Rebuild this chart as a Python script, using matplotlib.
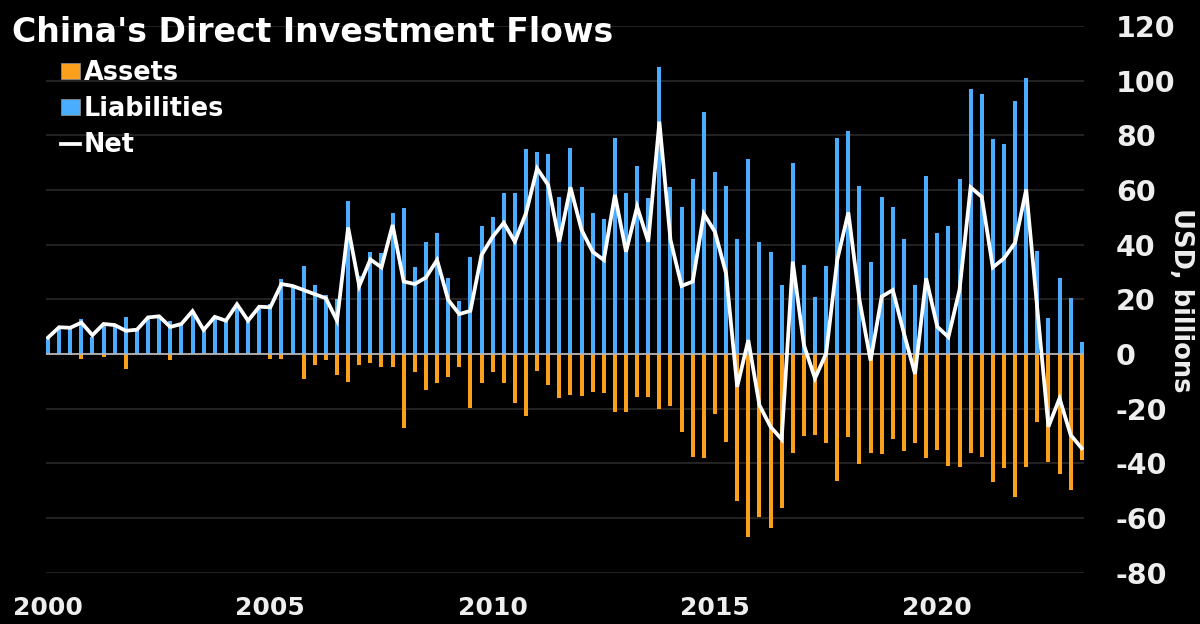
import numpy as np
import matplotlib
matplotlib.use("Agg")
import matplotlib.pyplot as plt
from matplotlib.patches import Patch
from matplotlib.lines import Line2D

plt.rcParams['axes.unicode_minus'] = False

##############              Data (USD billions, quarterly 2000 Q1 - 2023 Q2)             ###############

start_year = 2000
liabilities = [5.7, 9.4, 9.4, 12.8, 6.3, 10.6, 10.1, 13.7, 8.7, 13.4, 13.5, 12.0,
               10.6, 15.7, 8.8, 12.8, 12.1, 17.3, 12.4, 16.3, 18.3, 27.3, 24.6, 32.2,
               25.2, 21.6, 20.0, 56.0, 28.5, 37.4, 36.8, 51.7, 53.5, 31.9, 40.8, 44.4,
               27.9, 19.4, 35.6, 46.8, 50.2, 59.0, 59.0, 74.9, 73.8, 73.0, 57.5, 75.5,
               61.0, 51.5, 49.3, 79.1, 59.0, 68.8, 57.2, 105.0, 61.0, 53.7, 63.9, 88.6,
               66.6, 61.5, 42.1, 71.3, 40.8, 37.4, 25.2, 69.7, 32.6, 20.7, 32.3, 79.1,
               81.7, 61.5, 33.8, 57.3, 53.9, 42.0, 25.2, 65.1, 44.4, 46.8, 64.0, 96.8,
               95.0, 78.5, 76.8, 92.7, 100.8, 37.7, 13.0, 27.7, 20.4, 4.5]
assets = [0, 0, -0.5, -1.8, 0, -1.0, 0, -5.5, 0, 0, 0, -2.2,
          -0.5, 0, 0, 0, -0.3, -0.3, 0, 0, -1.9, -1.7, 0, -9.1,
          -3.9, -2.3, -7.7, -10.1, -4.0, -3.4, -4.9, -4.9, -27.2, -6.5, -13.2, -10.7,
          -8.5, -4.6, -19.6, -10.7, -6.5, -10.7, -18.0, -22.6, -6.1, -11.3, -16.0, -15.0,
          -15.4, -14.0, -14.4, -21.3, -21.3, -15.6, -15.6, -20.2, -18.9, -28.4, -37.6, -37.9,
          -22.0, -32.1, -53.7, -66.8, -59.8, -63.8, -56.5, -36.3, -30.0, -29.6, -32.7, -46.5,
          -30.5, -40.2, -36.1, -36.6, -31.1, -35.5, -32.7, -37.9, -35.1, -41.0, -41.2, -36.1,
          -37.8, -46.7, -41.6, -52.4, -41.2, -24.8, -39.4, -44.0, -49.7, -38.8]
net = [6.0, 9.8, 9.6, 11.5, 6.9, 11.0, 10.6, 8.5, 8.9, 13.4, 13.8, 9.9,
       11.0, 15.7, 8.8, 13.6, 12.2, 18.2, 12.2, 17.3, 17.1, 25.6, 24.9, 23.4,
       21.9, 20.4, 12.2, 46.3, 24.9, 34.6, 31.7, 47.2, 26.5, 25.6, 28.0, 34.4,
       19.8, 14.6, 15.8, 36.2, 42.9, 48.0, 41.1, 51.5, 67.9, 61.8, 41.1, 61.0,
       45.4, 37.4, 34.4, 58.2, 37.4, 53.9, 41.1, 85.0, 41.7, 24.9, 26.5, 51.3,
       44.7, 29.5, -12.0, 5.1, -18.7, -26.6, -31.2, 33.8, 3.3, -8.9, 0.2, 34.4,
       51.8, 19.8, -2.4, 21.0, 23.4, 7.6, -7.3, 27.7, 10.0, 6.2, 23.4, 61.0,
       57.5, 31.7, 35.0, 40.7, 60.2, 16.5, -26.6, -16.2, -29.6, -34.5]

x_ticks = [2000, 2005, 2010, 2015, 2020]
y_ticks = list(range(-80, 121, 20))

orange = '#FBA01C'
blue = '#4BADFF'

x_time = start_year + np.arange(len(net)) / 4.0      # quarter position in years

###############            Create and save a figure              #####################

fig = plt.figure(figsize=(12, 6.24), dpi=100, facecolor='black')
axes = fig.add_axes([46 / 1200, 1 - 572.7 / 624, (1084 - 46) / 1200, (572.7 - 26) / 624])
axes.set_facecolor('black')

axes.bar(x_time, liabilities, width=0.09, color=blue, zorder=2)
axes.bar(x_time, assets, width=0.09, color=orange, zorder=2)
axes.axhline(0, color='#b4b4b4', lw=1.3, zorder=3)
axes.plot(x_time, net, color='white', lw=2.7, zorder=4, solid_joinstyle='miter')

axes.set_xlim(1999.955, 2023.3)
axes.set_ylim(-80, 120)
axes.set_xticks(x_ticks)
axes.set_yticks(y_ticks)
axes.yaxis.tick_right()
axes.yaxis.grid(True, color='#262626', lw=1.3)
axes.set_axisbelow(True)
for s in axes.spines.values():
    s.set_visible(False)

axes.tick_params(axis='x', length=0, pad=17, labelsize=18, labelcolor='#eeeeee')
axes.tick_params(axis='y', length=0, pad=23, labelsize=20.5, labelcolor='#eeeeee')
for lab in axes.get_xticklabels() + axes.get_yticklabels():
    lab.set_fontweight('bold')

fig.text(1181 / 1200, 1 - 300 / 624, 'USD, billions', rotation=270, ha='center', va='center',
         color='#eeeeee', fontsize=18.5, fontweight='bold')

fig.text(12 / 1200, 1 - 42 / 624, "China's Direct Investment Flows", ha='left', va='baseline',
         color='white', fontsize=23.9, fontweight='bold')

handles = [Patch(facecolor=orange, edgecolor='#888888', lw=0.6),
           Patch(facecolor=blue, edgecolor='#888888', lw=0.6),
           Line2D([], [], color='white', lw=2.7)]
leg = axes.legend(handles, ['Assets', 'Liabilities', 'Net'], loc='upper left',
                  bbox_to_anchor=(61 / 1200, 1 - 60 / 624), bbox_transform=fig.transFigure,
                  frameon=False, prop={'size': 18.4, 'weight': 'bold'}, labelcolor='white',
                  handlelength=0.75, handleheight=0.6, handletextpad=0.15, labelspacing=0.4,
                  borderaxespad=0, borderpad=0)

fig.savefig('out.png', dpi=100, facecolor='black')
